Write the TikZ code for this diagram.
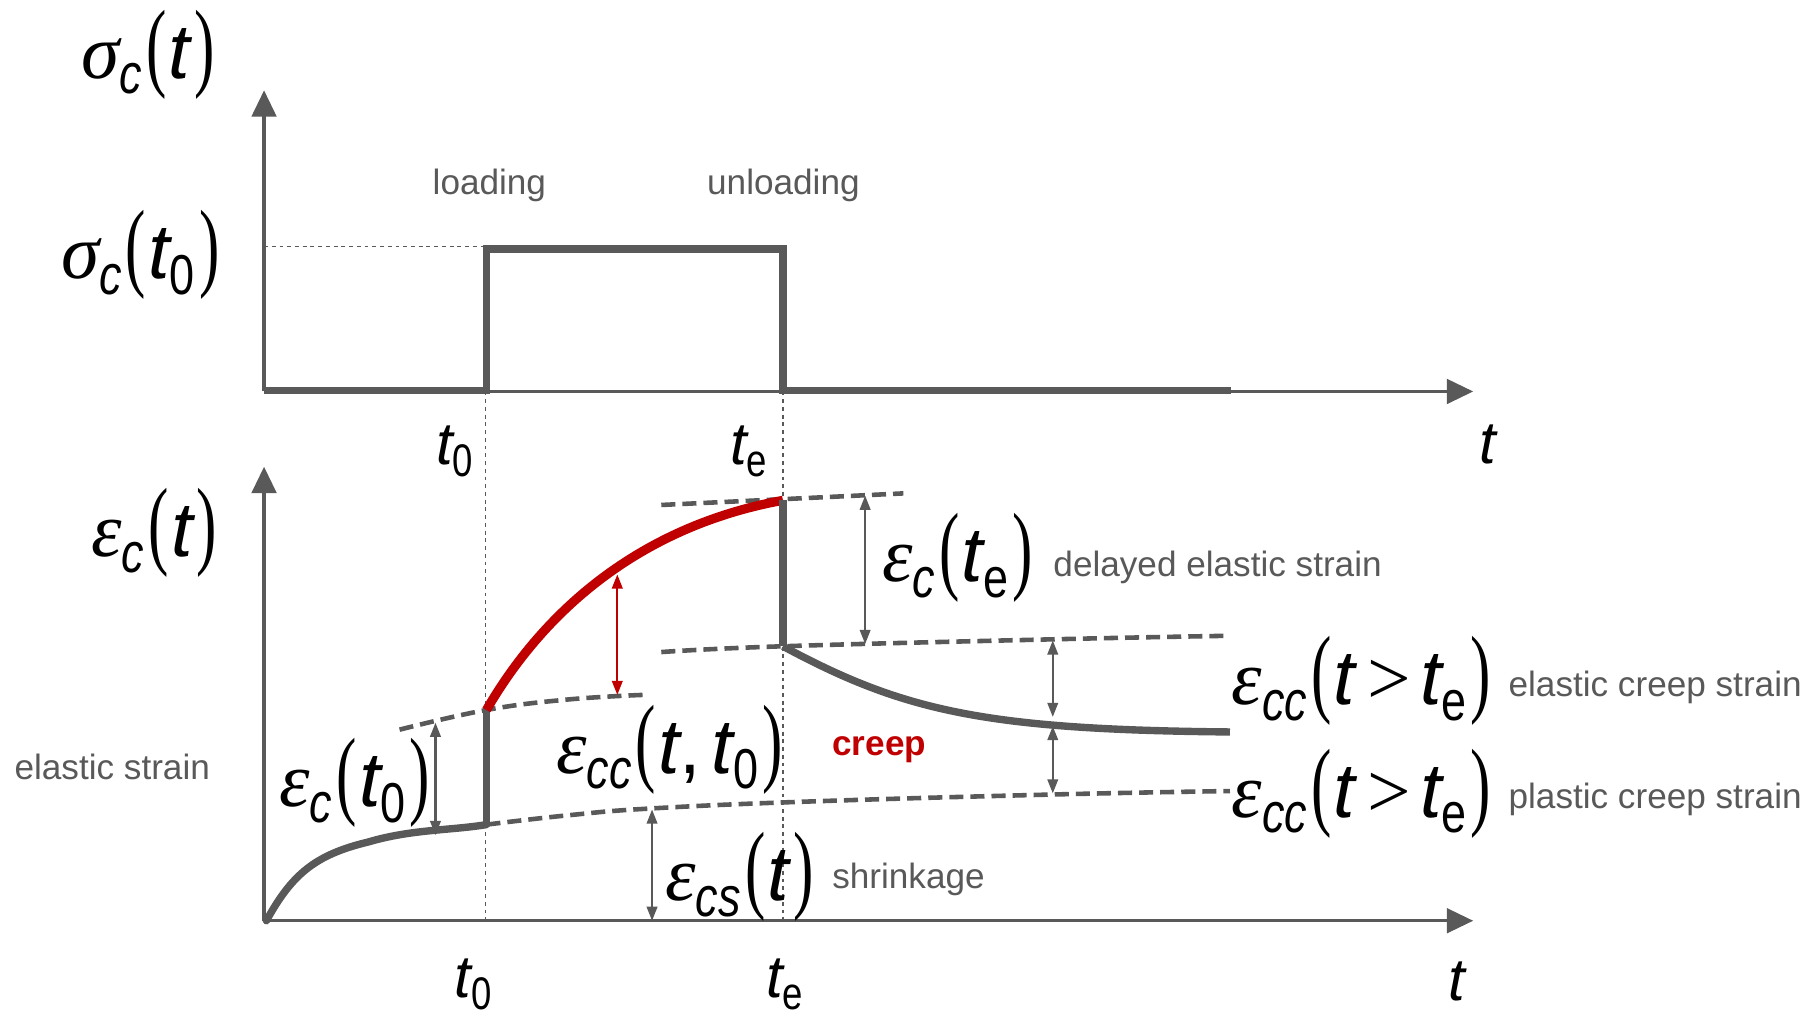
\documentclass[tikz,border=0pt]{standalone}
\usepackage{fontspec}
\setmainfont{Liberation Sans}
\newfontfamily\serf{Liberation Serif}
\newfontfamily\nar{Liberation Sans}[FakeStretch=0.8]
\newfontfamily\pfont{Liberation Serif}[FakeStretch=0.62]
\usetikzlibrary{arrows.meta}
\definecolor{gc}{HTML}{595959}
\definecolor{rc}{HTML}{C00000}
\newcommand{\Gk}[1]{{\serf\itshape #1}}
\newcommand{\Ti}{{\itshape t}}
\newcommand{\Sb}[1]{\raisebox{-4.5pt}{\fontsize{16}{16}\nar #1}}
\newcommand{\Ssb}[1]{\raisebox{-3.4pt}{\fontsize{13}{13}\nar #1}}
\newcommand{\Lp}{\hspace{1.2pt}{\fontsize{28}{28}\pfont (}\hspace{0.6pt}}
\newcommand{\Rp}{\hspace{1.2pt}{\fontsize{28}{28}\pfont )}}
\newcommand{\Gt}{\hspace{3.5pt}{\serf >}\hspace{2.5pt}}
\begin{document}
\begin{tikzpicture}[x=0.011582cm, y=-0.011582cm,
  axisline/.style={draw=gc, line width=0.9pt, -{Triangle[length=7.5pt,width=7pt]}},
  sig/.style={draw=gc, line width=2.1pt},
  redsig/.style={draw=rc, line width=2.6pt},
  dsh/.style={draw=gc, line width=1.3pt, dash pattern=on 4pt off 2pt},
  guide/.style={draw=gc, line width=0.35pt, dash pattern=on 1.1pt off 1.1pt},
  dimarrow/.style={draw=gc, line width=0.6pt, {Triangle[length=4pt,width=3pt]}-{Triangle[length=4pt,width=3pt]}},
  reddim/.style={draw=rc, line width=0.6pt, {Triangle[length=4pt,width=3pt]}-{Triangle[length=4pt,width=3pt]}},
  mth/.style={inner sep=0pt, font=\fontsize{22}{26}\selectfont},
  tlab/.style={inner sep=0pt, anchor=base west, font=\fontsize{17}{20}\selectfont},
  gtxt/.style={inner sep=0pt, anchor=base west, text=gc, font=\fontsize{10}{12}\selectfont},
]
\useasboundingbox (0,0) rectangle (1568,880);
\fill[white] (0,0) rectangle (1568,880);

% ---------- top diagram ----------
\coordinate (O1) at (228,338);
\coordinate (Y1) at (228,78);
\coordinate (X1) at (1272,338);
\draw[axisline] (O1) -- (Y1);
\draw[axisline] (O1) -- (X1);
\coordinate (s0) at (228,337);
\coordinate (s1) at (420,337);
\coordinate (s2) at (420,215);
\coordinate (s3) at (676,215);
\coordinate (s4) at (676,337);
\coordinate (s5) at (1063,337);
\draw[sig] (s0) -- (s1) -- (s2) -- (s3) -- (s4) -- (s5);
\coordinate (h0) at (228,213);
\coordinate (h1) at (417,213);
\draw[guide] (h0) -- (h1);
\coordinate (g0a) at (419,338);
\coordinate (g0b) at (419,796);
\coordinate (gea) at (676,338);
\coordinate (geb) at (676,796);
\draw[guide] (g0a) -- (g0b);
\draw[guide] (gea) -- (geb);

\node[mth, anchor=east] (sct) at (186,47) {\Gk{σ}\Sb{\itshape c}\Lp\Ti\Rp};
\node[mth, anchor=east] (sct0) at (190,220) {\Gk{σ}\Sb{\itshape c}\Lp\Ti\Sb{0}\Rp};
\node[gtxt] (load) at (373,168) {loading};
\node[gtxt] (unload) at (610,168) {unloading};
\node[tlab] (tt0) at (376,401) {\Ti\Ssb{0}};
\node[tlab] (tte) at (630,401) {\Ti\Ssb{e}};
\node[tlab] (ttt) at (1277,400) {\Ti};

% ---------- bottom diagram ----------
\coordinate (O2) at (228,795);
\coordinate (Y2) at (228,403);
\coordinate (X2) at (1272,795);
\draw[axisline] (O2) -- (Y2);
\draw[axisline] (O2) -- (X2);

% dashed reference lines
\draw[dsh] plot[smooth, tension=0.7] coordinates {(420,712) (490,704) (563,698) (700,692) (909,686) (1062,683)};
\draw[dsh] plot[smooth, tension=0.7] coordinates {(345,630) (420,613) (490,604) (555,600)};
\draw[dsh] plot[smooth, tension=0.7] coordinates {(571,436) (676,431) (780,426)};
\draw[dsh] plot[smooth, tension=0.7] coordinates {(571,563) (676,558) (909,552) (1058,549)};

% strain history
\coordinate (c0) at (230,795);
\coordinate (c1) at (318,727);
\coordinate (j1) at (420,712);
\draw[sig, line cap=round] (c0) .. controls (252,755) and (272,738) .. (c1) .. controls (355,716) and (390,717) .. (j1);
\coordinate (j2) at (420,613);
\draw[sig] (j1) -- (j2);
\coordinate (j3) at (676,432);
\draw[redsig] (j2) .. controls (468,530) and (550,455) .. (j3);
\coordinate (j4) at (676,558);
\draw[sig] (j3) -- (j4);
\coordinate (j5) at (1062,632);
\draw[sig] (j4) .. controls (780,614) and (850,630) .. (j5);

% dimension arrows
\coordinate (a1t) at (376,624);
\coordinate (a1b) at (376,721);
\draw[dimarrow] (a1t) -- (a1b);
\coordinate (a2t) at (533,496);
\coordinate (a2b) at (533,600);
\draw[reddim] (a2t) -- (a2b);
\coordinate (a3t) at (747,428);
\coordinate (a3b) at (747,556);
\draw[dimarrow] (a3t) -- (a3b);
\coordinate (a4t) at (909,553);
\coordinate (a4b) at (909,619);
\draw[dimarrow] (a4t) -- (a4b);
\coordinate (a5t) at (909,627);
\coordinate (a5b) at (909,685);
\draw[dimarrow] (a5t) -- (a5b);
\coordinate (a6t) at (563,699);
\coordinate (a6b) at (563,795);
\draw[dimarrow] (a6t) -- (a6b);

% labels
\node[mth, anchor=east] (ect) at (188,460) {\Gk{ε}\Sb{\itshape c}\Lp\Ti\Rp};
\node[gtxt] (els) at (12,673) {elastic strain};
\node[mth, anchor=east] (ect0) at (372,676) {\Gk{ε}\Sb{\itshape c}\Lp\Ti\Sb{0}\Rp};
\node[mth] (ecc) at (578,647) {\Gk{ε}\Sb{\itshape cc}\Lp\Ti,\hspace{3pt}\Ti\Sb{0}\Rp};
\node[inner sep=0pt, anchor=base west, text=rc, font=\fontsize{10}{12}\selectfont\bfseries] (creep) at (718,652) {creep};
\node[mth, anchor=west] (ecte) at (761,482) {\Gk{ε}\Sb{\itshape c}\Lp\Ti\Sb{e}\Rp};
\node[gtxt] (des) at (909,498) {delayed elastic strain};
\node[mth, anchor=west] (ecc1) at (1063,588) {\Gk{ε}\Sb{\itshape cc}\Lp\Ti\Gt\Ti\Sb{e}\Rp};
\node[gtxt] (ecs1) at (1302,601) {elastic creep strain};
\node[mth, anchor=west] (ecc2) at (1063,685) {\Gk{ε}\Sb{\itshape cc}\Lp\Ti\Gt\Ti\Sb{e}\Rp};
\node[gtxt] (pcs) at (1302,698) {plastic creep strain};
\node[mth, anchor=west] (ecs) at (574,757) {\Gk{ε}\Sb{\itshape cs}\Lp\Ti\Rp};
\node[gtxt] (shr) at (718,767) {shrinkage};
\node[tlab] (bt0) at (392,861) {\Ti\Ssb{0}};
\node[tlab] (bte) at (661,861) {\Ti\Ssb{e}};
\node[tlab] (btt) at (1250,864) {\Ti};
\end{tikzpicture}
\end{document}
